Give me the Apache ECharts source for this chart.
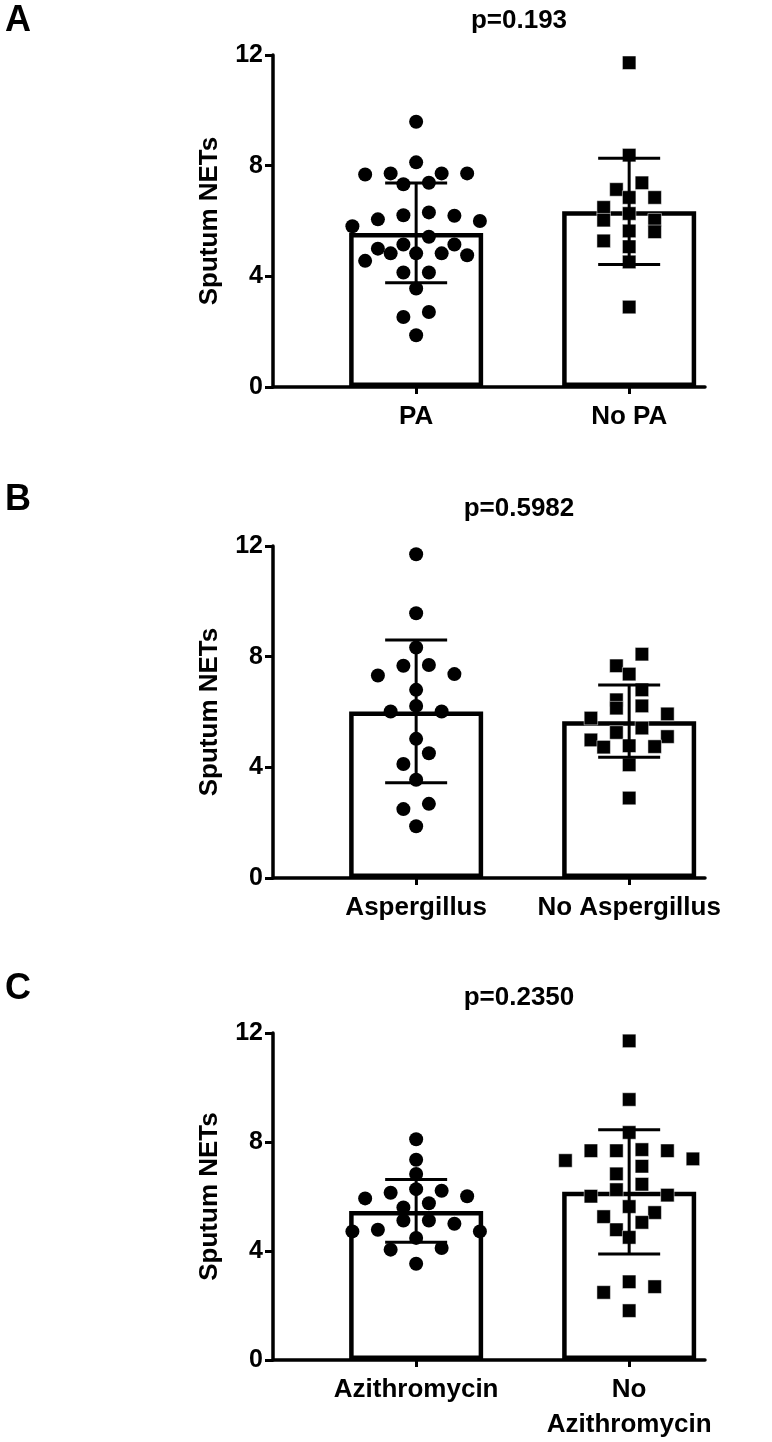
<!DOCTYPE html>
<html>
<head>
<meta charset="utf-8">
<script src="https://cdn.jsdelivr.net/npm/echarts@6/dist/echarts.min.js"></script>
<style>
html, body { margin: 0; padding: 0; background: #fff; }
#main { width: 772px; height: 1442px; }
</style>
</head>
<body>
<div id="main"></div>
<script>
// ---- data ----
var panelLetters = ['A', 'B', 'C'];
var pLabels = ['p=0.193', 'p=0.5982', 'p=0.2350'];

var catsA = ['PA', 'No PA'];
var catsB = ['Aspergillus', 'No Aspergillus'];
var catsC = ['Azithromycin', 'No\nAzithromycin'];

var paVals = [9.59, 8.12, 7.38, 7.72, 7.72, 7.72, 7.68, 7.33, 6.21, 6.06, 6.31, 6.00, 6.19, 5.81, 5.43,
  5.15, 5.15, 5.00, 4.83, 4.76, 4.83, 4.83, 4.56, 4.14, 4.14, 3.56, 2.53, 2.71, 1.87];
var noPaVals = [11.72, 8.38, 7.38, 7.14, 6.85, 6.85, 6.49, 6.27, 6.03, 6.03, 5.61, 5.64, 5.28, 5.07, 4.52, 2.89];

var aspVals = [11.70, 9.57, 8.33, 7.70, 7.67, 7.32, 7.37, 6.80, 6.22, 6.02, 6.02, 5.03, 4.51, 4.12, 3.55,
  2.49, 2.68, 1.87];
var noAspVals = [8.09, 7.67, 7.37, 6.80, 6.44, 6.14, 6.22, 5.78, 5.93, 5.42, 5.11, 5.26, 4.75, 4.99, 4.73,
  4.78, 4.09, 2.89];

var aziVals = [8.10, 7.35, 6.83, 5.93, 6.21, 6.14, 6.27, 6.01, 5.75, 5.60, 5.12, 5.12, 5.00, 4.72, 4.78,
  4.72, 4.48, 4.05, 4.11, 3.53];
var noAziVals = [11.71, 9.56, 8.35, 7.68, 7.68, 7.72, 7.68, 7.38, 7.32, 7.11, 6.83, 6.45, 6.25, 6.01, 6.05,
  5.63, 5.41, 5.26, 5.05, 4.78, 4.50, 2.87, 2.48, 2.69, 1.81];

// bar = mean, whiskers = SD
var meansA = [5.57, 6.35], sdA = [1.80, 1.92];
var meansB = [6.02, 5.67], sdB = [2.58, 1.31];
var meansC = [5.47, 6.17], sdC = [1.15, 2.28];

// ---- layout ----
var FONT = '"Liberation Sans", Arial, Helvetica, sans-serif';
var GRID_LEFT = 273, GRID_W = 432;
var gridTops = [55, 546, 1033];
var gridHeights = [332, 332, 331];
var X_MIN = -0.672, X_MAX = 1.356;
var MARK = 14;      // marker size px
var SPREAD = 25.5;  // horizontal step between points of one row, px

var panels = [
  { cats: catsA, g1: paVals, g2: noPaVals, means: meansA, sd: sdA },
  { cats: catsB, g1: aspVals, g2: noAspVals, means: meansB, sd: sdB },
  { cats: catsC, g1: aziVals, g2: noAziVals, means: meansC, sd: sdC }
];

// rows of similar values spread sideways, like a prism scatter dot plot
function swarm(vals, center, pxPerY) {
  var pxPerX = GRID_W / (X_MAX - X_MIN);
  var sorted = vals.slice().sort(function (a, b) { return b - a; });
  var rowH = MARK / pxPerY;
  var out = [];
  var i = 0;
  while (i < sorted.length) {
    var row = [sorted[i]];
    var j = i + 1;
    while (j < sorted.length && row[0] - sorted[j] < rowH) { row.push(sorted[j]); j++; }
    var n = row.length;
    var slots = [];
    for (var k = 0; k < n; k++) slots.push(k - (n - 1) / 2);
    slots.sort(function (a, b) { return Math.abs(a) - Math.abs(b) || b - a; });
    row.forEach(function (v, k) {
      out.push([center + slots[k] * SPREAD / pxPerX, v]);
    });
    i = j;
  }
  return out;
}

function renderErr(params, api) {
  var x = api.value(0), m = api.value(1), s = api.value(2);
  var top = api.coord([x, m + s]);
  var bot = api.coord([x, m - s]);
  var half = 31;
  var st = { stroke: '#000', lineWidth: 3 };
  return {
    type: 'group',
    children: [
      { type: 'line', shape: { x1: top[0], y1: top[1], x2: bot[0], y2: bot[1] }, style: st },
      { type: 'line', shape: { x1: top[0] - half, y1: top[1], x2: top[0] + half, y2: top[1] }, style: st },
      { type: 'line', shape: { x1: bot[0] - half, y1: bot[1], x2: bot[0] + half, y2: bot[1] }, style: st }
    ]
  };
}

var grids = [], xAxes = [], yAxes = [], series = [], graphics = [];
var letterTops = [3, 482, 971];
var titleTops = [7.5, 496, 985];

panels.forEach(function (p, i) {
  grids.push({ left: GRID_LEFT, width: GRID_W, top: gridTops[i], height: gridHeights[i] });
  xAxes.push({
    gridIndex: i, type: 'value', min: X_MIN, max: X_MAX,
    axisLine: { show: true, onZero: false, lineStyle: { color: '#000', width: 3.5 } },
    axisTick: { show: true, customValues: [0, 1], length: 7, lineStyle: { color: '#000', width: 3 } },
    axisLabel: {
      customValues: [0, 1],
      formatter: function (v) { return p.cats[Math.round(v)]; },
      color: '#000', fontFamily: FONT, fontSize: 26, fontWeight: 'bold',
      margin: 12, lineHeight: 35, verticalAlign: 'top', align: 'center'
    },
    splitLine: { show: false }
  });
  yAxes.push({
    gridIndex: i, type: 'value', min: 0, max: 12, interval: 4,
    name: 'Sputum NETs', nameLocation: 'middle', nameGap: 50,
    nameTextStyle: { color: '#000', fontFamily: FONT, fontSize: 26, fontWeight: 'bold' },
    axisLine: { show: true, onZero: false, lineStyle: { color: '#000', width: 3.5 } },
    axisTick: { show: true, length: 8, lineStyle: { color: '#000', width: 3 } },
    axisLabel: { color: '#000', fontFamily: FONT, fontSize: 25, fontWeight: 'bold', margin: 10 },
    splitLine: { show: false }
  });

  var pxPerY = gridHeights[i] / 12;

  series.push({
    type: 'bar', xAxisIndex: i, yAxisIndex: i, barWidth: 134, z: 1, silent: true,
    data: [[0, p.means[0]], [1, p.means[1]]],
    itemStyle: { color: '#fff', borderColor: '#000', borderWidth: 4.5 }
  });
  series.push({
    type: 'scatter', xAxisIndex: i, yAxisIndex: i, z: 3, silent: true,
    symbol: 'circle', symbolSize: MARK,
    itemStyle: { color: '#000', opacity: 1 },
    data: swarm(p.g1, 0, pxPerY)
  });
  series.push({
    type: 'scatter', xAxisIndex: i, yAxisIndex: i, z: 3, silent: true,
    symbol: 'rect', symbolSize: MARK - 0.5,
    itemStyle: { color: '#000', opacity: 1, borderColor: '#fff', borderWidth: 0.5 },
    data: swarm(p.g2, 1, pxPerY)
  });
  series.push({
    type: 'custom', xAxisIndex: i, yAxisIndex: i, z: 4, silent: true,
    renderItem: renderErr,
    data: [[0, p.means[0], p.sd[0]], [1, p.means[1], p.sd[1]]]
  });

  graphics.push({
    type: 'text', left: 5, top: letterTops[i],
    style: { text: panelLetters[i], fill: '#000', font: 'bold 36px ' + FONT }
  });
  graphics.push({
    type: 'text', x: 519, y: titleTops[i],
    style: { text: pLabels[i], fill: '#000', font: 'bold 26px ' + FONT, align: 'center', verticalAlign: 'top' }
  });
});

var option = {
  backgroundColor: '#fff',
  animation: false,
  grid: grids,
  xAxis: xAxes,
  yAxis: yAxes,
  series: series,
  graphic: graphics
};

var myChart = echarts.init(document.getElementById('main'));
myChart.setOption(option);
</script>
</body>
</html>
